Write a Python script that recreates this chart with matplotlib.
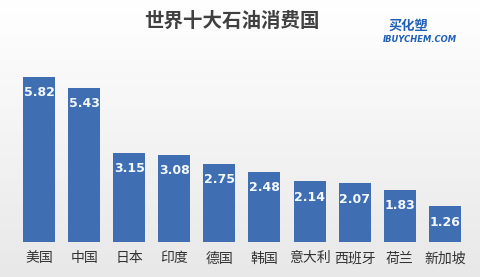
import numpy as np
import matplotlib
matplotlib.use("Agg")
import matplotlib.pyplot as plt

plt.rcParams['font.family'] = ['Noto Sans CJK SC', 'DejaVu Sans']

# data
countries = ["美国", "中国", "日本", "印度", "德国", "韩国", "意大利", "西班牙", "荷兰", "新加坡"]
values = [5.82, 5.43, 3.15, 3.08, 2.75, 2.48, 2.14, 2.07, 1.83, 1.26]
value_labels = ["5.82", "5.43", "3.15", "3.08", "2.75", "2.48", "2.14", "2.07", "1.83", "1.26"]

fig = plt.figure(figsize=(4.8, 2.77), dpi=100)

# --- background gradient ---
bg = fig.add_axes([0, 0, 1, 1])
grad = np.linspace(1.0, 0.91, 256).reshape(-1, 1)
bg.imshow(np.dstack([grad, grad, grad]), aspect="auto", extent=[0, 1, 0, 1])
bg.axis("off")

# --- bars ---
ax = fig.add_axes([0, 35 / 277, 1, 242 / 277])
ax.patch.set_alpha(0)
x = np.arange(len(countries))
ax.bar(x, values, width=0.71, color="#3f6eb2")
ax.set_xlim(-0.865, 9.78)
ax.set_ylim(0, 8.52)
ax.axis("off")

for xi, v, lab in zip(x, values, value_labels):
    ax.text(xi, v - 0.56, lab, ha="center", va="center", color="#f4f8ff",
            fontsize=9, fontweight="bold", family="DejaVu Sans")
for xi, name in zip(x, countries):
    ax.text(xi, -0.58, name, ha="center", va="center", color="#333333",
            fontsize=10, clip_on=False)

# --- title and logo ---
fig.text(0.484, 1 - 21 / 277, "世界十大石油消费国", ha="center", va="center",
         fontsize=14, fontweight="bold", color="#404040")
fig.text(408 / 480, 1 - 26 / 277, "买化塑", ha="center", va="center",
         fontsize=9.5, fontweight="bold", style="italic", color="#1f5fb5")
fig.text(420 / 480, 1 - 39 / 277, "IBUYCHEM.COM", ha="center", va="center",
         fontsize=6, fontweight="bold", style="italic", color="#1f5fb5",
         family="DejaVu Sans")

fig.savefig("out.png", dpi=100)
